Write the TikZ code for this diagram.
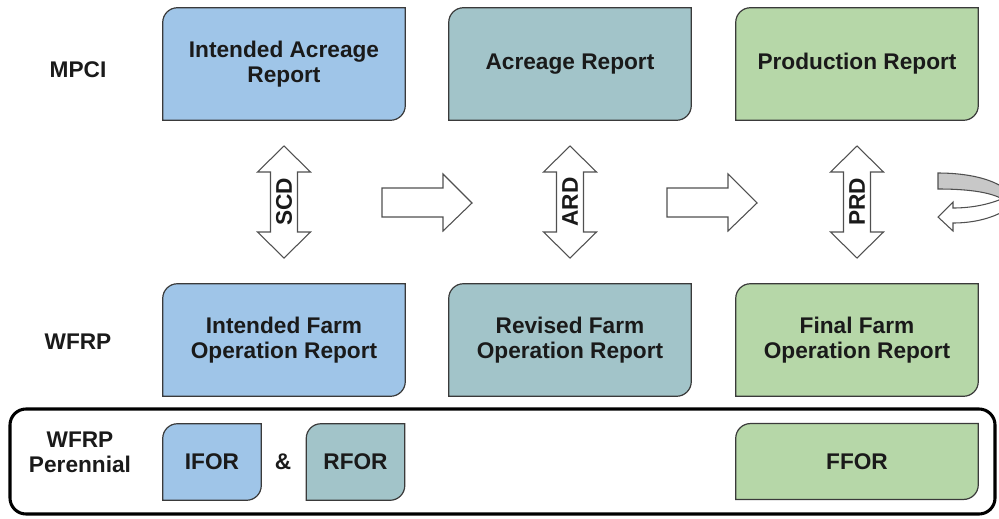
\documentclass[tikz,border=0pt]{standalone}
\usepackage{fontspec}
\setmainfont{Liberation Sans}
\usetikzlibrary{backgrounds}
\definecolor{bluec}{HTML}{9FC5E8}
\definecolor{tealc}{HTML}{A2C4C9}
\definecolor{greenc}{HTML}{B6D7A8}
\definecolor{edgec}{HTML}{3A3A3A}
\definecolor{arrowc}{HTML}{505050}
\definecolor{bandc}{HTML}{C8C8C8}
\definecolor{txtc}{HTML}{1A1A1A}
\newlength{\crad}
\setlength{\crad}{11pt}
\newcommand{\diagbox}[2]{%
  \begin{pgfonlayer}{background}
  \draw[boxline, fill=#2] (#1.south west) -- ([yshift=-\crad]#1.north west)
    arc[start angle=180, end angle=90, radius=\crad] -- (#1.north east)
    -- ([yshift=\crad]#1.south east)
    arc[start angle=0, end angle=-90, radius=\crad] -- cycle;
  \end{pgfonlayer}}
% vertical double block arrow centred at (#1,202)
\newcommand{\vdarrow}[3]{%
  \draw[blockarrow] (#1,146) -- ++(26.5,26) -- ++(-13,0) -- ++(0,60) -- ++(13,0)
    -- (#1,258) -- ++(-26.5,-26) -- ++(13,0) -- ++(0,-60) -- ++(-13,0) -- cycle;
  \node[lbl, rotate=90] (#2) at (#1,202) {#3};}
% right block arrow starting at x=#1
\newcommand{\rblock}[1]{%
  \draw[blockarrow] (#1,188) -- ++(61,0) -- ++(0,-14) -- ++(29,29) -- ++(-29,28)
    -- ++(0,-14) -- ++(-61,0) -- cycle;}
\begin{document}
\begin{tikzpicture}[x=0.75pt, y=-0.75pt,
  font=\fontsize{17}{19}\selectfont\bfseries,
  boxline/.style={draw=edgec, line width=0.9pt},
  blockarrow/.style={draw=arrowc, line width=0.8pt, fill=white, line join=miter},
  lbl/.style={align=center, text=txtc, inner sep=0pt},
  bigbox/.style={lbl, minimum width=181.5pt, minimum height=84pt},
  smallbox/.style={lbl, minimum width=73.5pt, minimum height=57pt},
  widebox/.style={lbl, minimum width=181.5pt, minimum height=56.5pt}]
\useasboundingbox (0,0) rectangle (999,518);

% row labels
\node[lbl] (mpci) at (78,70) {MPCI};
\node[lbl] (wfrp) at (78,342) {WFRP};
\node[lbl] (wfrpp) at (80,452) {WFRP\\Perennial};

% MPCI row
\node[bigbox] (iar) at (284,64) {Intended Acreage\\Report};
\node[bigbox] (ar)  at (570,64) {Acreage Report};
\node[bigbox] (pr)  at (857,64) {Production Report};
\diagbox{iar}{bluec}
\diagbox{ar}{tealc}
\diagbox{pr}{greenc}

% WFRP row
\node[bigbox] (ifor) at (284,340) {Intended Farm\\Operation Report};
\node[bigbox] (rfor) at (570,340) {Revised Farm\\Operation Report};
\node[bigbox] (ffor) at (857,340) {Final Farm\\Operation Report};
\diagbox{ifor}{bluec}
\diagbox{rfor}{tealc}
\diagbox{ffor}{greenc}

% Perennial row
\draw[draw=black, line width=2.3pt, rounded corners=12pt] (10,409) rectangle (995,514);
\node[smallbox] (ip) at (212,462) {IFOR};
\node[lbl] (amp) at (283,462) {\&};
\node[smallbox] (rp) at (355.5,462) {RFOR};
\node[widebox] (fp) at (857,461.5) {FFOR};
\diagbox{ip}{bluec}
\diagbox{rp}{tealc}
\diagbox{fp}{greenc}

% vertical double arrows
\vdarrow{284}{scd}{SCD}
\vdarrow{570}{ard}{ARD}
\vdarrow{857}{prd}{PRD}

% right block arrows
\rblock{382}
\rblock{667}

% curved return arrow at right edge
\begin{scope}
\clip (0,0) rectangle (999,518);
\draw[draw=arrowc, line width=0.8pt, fill=bandc]
  (938,173) .. controls (962,173) and (988,177) .. (1004,188)
  -- (1004,200) .. controls (990,191) and (962,189) .. (938,189) -- cycle;
\draw[blockarrow]
  (1004,198) .. controls (988,205) and (970,208) .. (953,208)
  -- (953,202) -- (938,217) -- (953,231) -- (953,223)
  .. controls (972,223) and (990,219) .. (1004,211) -- cycle;
\end{scope}
\end{tikzpicture}
\end{document}
